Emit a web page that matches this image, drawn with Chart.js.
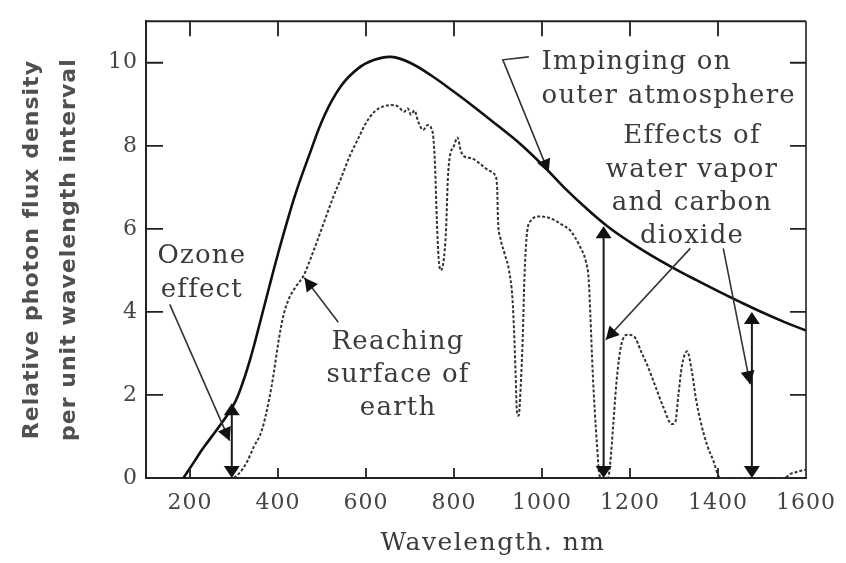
<!DOCTYPE html>
<html>
<head>
<meta charset="utf-8">
<script src="https://cdn.jsdelivr.net/npm/chart.js@4.4.1/dist/chart.umd.min.js"></script>
<style>
  html, body { margin: 0; padding: 0; background: #ffffff; }
  #wrap { width: 846px; height: 563px; }
</style>
</head>
<body>
<div id="wrap"><canvas id="c" width="846" height="563"></canvas></div>
<script>
// ---------------- DATA ----------------
const xTicks = [200, 400, 600, 800, 1000, 1200, 1400, 1600];
const yTicks = [0, 2, 4, 6, 8, 10];

// Impinging on outer atmosphere (solid)
const outerWl  = [185, 210, 230, 265, 300, 320, 340, 360, 380, 400, 420, 440, 469, 506, 544, 583, 619, 657, 700, 750, 800, 850, 900, 950, 1000, 1050, 1100, 1150, 1200, 1250, 1300, 1350, 1400, 1450, 1500, 1550, 1600];
const outerVal = [0, 0.4, 0.72, 1.22, 1.78, 2.3, 2.98, 3.78, 4.6, 5.4, 6.15, 6.85, 7.72, 8.74, 9.45, 9.87, 10.07, 10.14, 10.0, 9.68, 9.3, 8.9, 8.48, 8.05, 7.55, 7.0, 6.5, 6.05, 5.68, 5.35, 5.05, 4.77, 4.5, 4.24, 3.99, 3.76, 3.55];

// Reaching surface of earth (dashed)
const surfWl  = [300, 315, 330, 345, 363, 380, 390, 401, 412, 424, 440, 458, 480, 506, 525, 544, 563, 583, 600, 619, 640, 657, 672, 687, 695, 702, 710, 718, 724, 730, 740, 748, 753, 757, 761, 765, 770, 776, 782, 786, 790, 800, 808, 815, 822, 840, 861, 880, 893, 898, 900, 905, 915, 925, 933, 937, 940, 943, 947, 952, 956, 960, 965, 975, 995, 1020, 1045, 1065, 1085, 1100, 1106, 1110, 1115, 1120, 1125, 1130, 1135, 1150, 1155, 1162, 1170, 1180, 1195, 1210, 1225, 1240, 1258, 1276, 1295, 1303, 1310, 1318, 1330, 1340, 1350, 1360, 1375, 1389, 1405, 1550, 1565, 1580, 1600];
const surfVal = [0, 0.15, 0.4, 0.75, 1.14, 1.9, 2.5, 3.28, 3.9, 4.3, 4.6, 4.87, 5.45, 6.2, 6.75, 7.24, 7.75, 8.19, 8.55, 8.82, 8.95, 8.98, 8.95, 8.82, 8.9, 8.75, 8.85, 8.6, 8.45, 8.38, 8.5, 8.43, 8.2, 7.5, 6.2, 5.3, 5.0, 5.2, 6.0, 7.2, 7.7, 8.0, 8.2, 7.9, 7.75, 7.7, 7.55, 7.4, 7.3, 7.0, 6.2, 5.8, 5.4, 5.0, 4.3, 3.4, 2.5, 1.6, 1.5, 2.3, 3.3, 4.8, 5.8, 6.2, 6.3, 6.25, 6.1, 5.95, 5.6, 5.2, 4.8, 3.9, 2.6, 1.6, 0.8, 0.1, 0, 0, 0.35, 1.3, 2.4, 3.2, 3.45, 3.4, 3.05, 2.7, 2.2, 1.7, 1.3, 1.35, 2.0, 2.7, 3.05, 2.6, 1.9, 1.38, 0.8, 0.43, 0, 0, 0.1, 0.15, 0.2];

// Annotation texts
const ozoneLines     = ['Ozone', 'effect'];
const reachingLines  = ['Reaching', 'surface of', 'earth'];
const impingingLines = ['Impinging on', 'outer atmosphere'];
const effectsLines   = ['Effects of', 'water vapor', 'and carbon', 'dioxide'];
const xTitle = 'Wavelength. nm';
const yTitle = ['Relative photon flux density', 'per unit wavelength interval'];

// Double-headed arrows: wavelength, top value
const doubleArrowWl  = [295, 1140, 1477];
const doubleArrowTop = [1.8, 6.06, 4.0];

// ---------------- CHART ----------------
const toPts = (xs, ys) => xs.map((v, i) => ({ x: v, y: ys[i] }));

const TEXT = '#3a3a3a';
const SERIF = '"DejaVu Serif", "Liberation Serif", serif';

function head(ctx, x0, y0, x1, y1, len, w) {
  const a = Math.atan2(y1 - y0, x1 - x0);
  const c = Math.cos(a), s = Math.sin(a);
  ctx.beginPath();
  ctx.moveTo(x1, y1);
  ctx.lineTo(x1 - len * c + w * s, y1 - len * s - w * c);
  ctx.lineTo(x1 - len * c - w * s, y1 - len * s + w * c);
  ctx.closePath();
  ctx.fill();
}

const annotPlugin = {
  id: 'annot',
  beforeDraw(chart) {
    chart.ctx.letterSpacing = '1px';
  },
  afterDatasetsDraw(chart) {
    const { ctx, chartArea: a, scales: { x, y } } = chart;
    const px = v => x.getPixelForValue(v);
    const py = v => y.getPixelForValue(v);
    ctx.save();
    ctx.lineCap = 'butt';

    // frame: top and right
    ctx.strokeStyle = '#222';
    ctx.lineWidth = 2;
    ctx.beginPath();
    ctx.moveTo(a.left, a.top); ctx.lineTo(a.right, a.top);
    ctx.stroke();
    ctx.lineWidth = 1.6;
    ctx.beginPath();
    ctx.moveTo(a.right, a.top); ctx.lineTo(a.right, a.bottom);
    ctx.stroke();

    // inward tick marks
    ctx.lineWidth = 1.8;
    ctx.beginPath();
    yTicks.forEach(v => {
      if (v === 0) return;
      const yy = py(v);
      ctx.moveTo(a.left, yy); ctx.lineTo(a.left + 17, yy);
      ctx.moveTo(a.right, yy); ctx.lineTo(a.right - 16, yy);
    });
    xTicks.forEach(v => {
      if (v >= 1600) return;
      const xx = px(v);
      ctx.moveTo(xx, a.top); ctx.lineTo(xx, a.top + 15);
      ctx.moveTo(xx, a.bottom); ctx.lineTo(xx, a.bottom - 10);
    });
    ctx.stroke();

    // double-headed arrows
    ctx.strokeStyle = '#1a1a1a';
    ctx.fillStyle = '#111';
    ctx.lineWidth = 2;
    doubleArrowWl.forEach((wl, i) => {
      const xx = px(wl), y0 = py(0), y1 = py(doubleArrowTop[i]);
      ctx.beginPath(); ctx.moveTo(xx, y0 - 6); ctx.lineTo(xx, y1 + 6); ctx.stroke();
      head(ctx, xx, y1 + 20, xx, y1, 12, 8);
      head(ctx, xx, y0 - 20, xx, y0, 12, 8);
    });

    // leader lines with arrowheads (data coords)
    const leaders = [
      [[154, 4.18], [290, 0.9]],
      [[537, 3.75], [460, 4.82]],
      [[970, 10.14], [911, 10.07], [1015, 7.36]],
      [[1337, 5.53], [1145, 3.33]],
      [[1412, 5.53], [1473, 2.26]]
    ];
    ctx.strokeStyle = '#333';
    ctx.fillStyle = '#111';
    ctx.lineWidth = 1.6;
    leaders.forEach(pts => {
      const p = pts.map(q => [px(q[0]), py(q[1])]);
      ctx.beginPath();
      ctx.moveTo(p[0][0], p[0][1]);
      for (let k = 1; k < p.length; k++) ctx.lineTo(p[k][0], p[k][1]);
      ctx.stroke();
      const n = p.length;
      head(ctx, p[n - 2][0], p[n - 2][1], p[n - 1][0], p[n - 1][1], 13, 7);
    });

    // annotation texts
    ctx.fillStyle = TEXT;
    ctx.font = '26px ' + SERIF;
    ctx.letterSpacing = '1.2px';
    ctx.textBaseline = 'middle';
    const block = (lines, wl, v, align, lh) => {
      ctx.textAlign = align;
      lines.forEach((t, k) => ctx.fillText(t, px(wl), py(v) + k * lh));
    };
    block(ozoneLines, 227, 5.35, 'center', 34);
    block(reachingLines, 673, 3.28, 'center', 33);
    block(impingingLines, 999, 10.0, 'left', 34);
    block(effectsLines, 1341, 8.22, 'center', 33.3);

    // x axis title
    ctx.font = '25px ' + SERIF;
    ctx.letterSpacing = '1.5px';
    ctx.textAlign = 'center';
    ctx.fillText(xTitle, (a.left + a.right) / 2 + 17, 543);

    ctx.restore();
  }
};

new Chart(document.getElementById('c'), {
  type: 'scatter',
  data: {
    datasets: [
      {
        label: 'Reaching surface of earth',
        data: toPts(surfWl, surfVal),
        showLine: true,
        borderColor: '#333',
        borderWidth: 2,
        borderDash: [3, 2],
        pointRadius: 0,
        cubicInterpolationMode: 'monotone'
      },
      {
        label: 'Impinging on outer atmosphere',
        data: toPts(outerWl, outerVal),
        showLine: true,
        borderColor: '#111',
        borderWidth: 2.6,
        pointRadius: 0,
        tension: 0.4
      }
    ]
  },
  options: {
    responsive: false,
    animation: false,
    devicePixelRatio: 1,
    layout: { padding: { top: 13, right: 38, left: 0, bottom: 0 } },
    plugins: { legend: { display: false }, tooltip: { enabled: false } },
    scales: {
      x: {
        type: 'linear',
        min: 100, max: 1600,
        afterBuildTicks: s => { s.ticks = xTicks.map(v => ({ value: v })); },
        afterFit: s => { s.height = 85; },
        grid: { display: false, drawTicks: false },
        border: { display: true, color: '#222', width: 2 },
        ticks: { color: '#444', padding: 12, maxRotation: 0, autoSkip: false,
                 callback: v => String(v),
                 font: { family: SERIF, size: 22 } },
        title: { display: false }
      },
      y: {
        type: 'linear',
        min: 0, max: 11,
        afterBuildTicks: s => { s.ticks = yTicks.map(v => ({ value: v })); },
        afterFit: s => { s.width = 146; },
        grid: { display: false, drawTicks: false },
        border: { display: true, color: '#222', width: 2 },
        ticks: { color: '#444', padding: 8, callback: v => String(v),
                 font: { family: SERIF, size: 22 } },
        title: {
          display: true,
          text: yTitle,
          color: '#505050',
          font: { family: '"DejaVu Sans", sans-serif', size: 22, weight: 'bold', lineHeight: 1.68 },
          padding: { top: 14, bottom: 0 }
        }
      }
    }
  },
  plugins: [annotPlugin]
});
</script>
</body>
</html>
